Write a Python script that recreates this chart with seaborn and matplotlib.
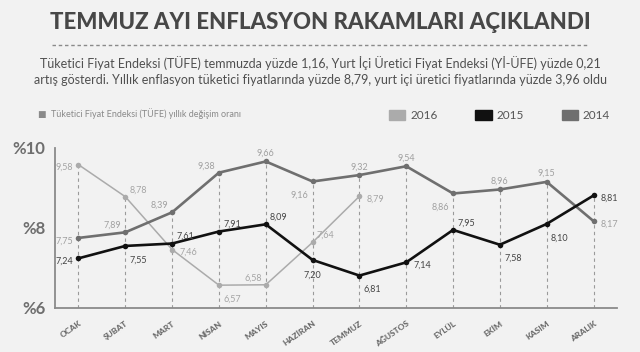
import pandas as pd
import seaborn as sns
import matplotlib.pyplot as plt
from matplotlib.lines import Line2D
from matplotlib.patches import Patch

# data
months = ['OCAK', 'ŞUBAT', 'MART', 'NİSAN', 'MAYIS', 'HAZİRAN',
          'TEMMUZ', 'AĞUSTOS', 'EYLÜL', 'EKİM', 'KASIM', 'ARALIK']
tufe_2016 = [9.58, 8.78, 7.46, 6.57, 6.58, 7.64, 8.79]
tufe_2015 = [7.24, 7.55, 7.61, 7.91, 8.09, 7.20, 6.81, 7.14, 7.95, 7.58, 8.10, 8.81]
tufe_2014 = [7.75, 7.89, 8.39, 9.38, 9.66, 9.16, 9.32, 9.54, 8.86, 8.96, 9.15, 8.17]
y_ticks = [6, 8, 10]

series = {'2016': tufe_2016, '2015': tufe_2015, '2014': tufe_2014}
colors = {'2016': '#ababab', '2015': '#111111', '2014': '#6f6f6f'}
widths = {'2016': 1.1, '2015': 1.9, '2014': 1.9}
label_colors = {'2016': '#a5a5a5', '2015': '#444444', '2014': '#a0a0a0'}

# where each value label sits relative to its point (points offset, ha)
A, B, L, R, AL, AR, BL, BR = ((0, 6, 'center'), (0, -11, 'center'), (-4, -2, 'right'),
                             (5, -2, 'left'), (-3, 5, 'right'), (3, 5, 'left'),
                             (-3, -10, 'right'), (3, -10, 'left'))
label_pos = {
    '2016': [L, AR, R, BR, AL, AR, R],
    '2015': [L, BR, AR, AR, AR, B, BR, R, AR, BR, BR, R],
    '2014': [L, AL, AL, AL, A, BL, A, A, BL, A, A, R],
}

rows = []
for year, vals in series.items():
    for i, v in enumerate(vals):
        rows.append({'ay': i, 'deger': v, 'yil': year})
df = pd.DataFrame(rows)

bg = '#f2f2f2'
sns.set_style('white')
plt.rcParams['font.family'] = ['Lato', 'DejaVu Sans']

fig = plt.figure(figsize=(6.4, 3.52), dpi=100, facecolor=bg)
ax = fig.add_axes([0.086, 0.125, 0.878, 0.455], facecolor=bg)

# dashed guides from the top value of each month to the axis
for i in range(len(months)):
    top = max(vals[i] for vals in series.values() if i < len(vals))
    ax.plot([i, i], [6, top], color='#9a9a9a', lw=0.8, ls=(0, (3, 3)), zorder=1)

sns.lineplot(data=df, x='ay', y='deger', hue='yil', palette=colors,
             hue_order=['2016', '2014', '2015'], marker='o', markersize=4,
             markeredgewidth=0, legend=False, ax=ax, zorder=3)
for year, lw in widths.items():
    for line in ax.lines:
        if line.get_color() == colors[year]:
            line.set_linewidth(lw)

for year, vals in series.items():
    for i, v in enumerate(vals):
        dx, dy, ha = label_pos[year][i]
        ax.annotate(f'{v:.2f}'.replace('.', ','), (i, v), xytext=(dx, dy),
                    textcoords='offset points', ha=ha, va='center',
                    fontsize=6.5, color=label_colors[year], zorder=4)

ax.set_xlim(-0.5, 11.5)
ax.set_ylim(6, 10)
ax.set_xticks(range(len(months)))
ax.set_xticklabels(months, rotation=35, ha='right', rotation_mode='anchor',
                   fontsize=6, fontweight='black', color='#6a6a6a')
ax.set_yticks(y_ticks)
ax.set_yticklabels([f'%{t}' for t in y_ticks], fontsize=12, fontweight='bold',
                   color='#6e6e6e')
ax.tick_params(axis='x', direction='inout', length=5, width=1, color='#555555', pad=6)
ax.tick_params(axis='y', direction='out', length=4, width=1, color='#999999', pad=3)
ax.set_xlabel('')
ax.set_ylabel('')
sns.despine(ax=ax)
for s in ['left', 'bottom']:
    ax.spines[s].set_color('#8a8a8a')
    ax.spines[s].set_linewidth(1.3)

# header
fig.text(0.5, 0.935, 'TEMMUZ AYI ENFLASYON RAKAMLARI AÇIKLANDI', ha='center',
         va='center', fontsize=16, fontweight='black', color='#474747')
fig.add_artist(Line2D([0.082, 0.92], [0.872, 0.872], color='#8a8a8a', lw=1,
                      ls=(0, (2.5, 2))))
fig.text(0.5, 0.822, 'Tüketici Fiyat Endeksi (TÜFE) temmuzda yüzde 1,16, Yurt İçi Üretici '
         'Fiyat Endeksi (Yİ-ÜFE) yüzde 0,21', ha='center', va='center',
         fontsize=9, color='#505050')
fig.text(0.5, 0.773, 'artış gösterdi. Yıllık enflasyon tüketici fiyatlarında yüzde 8,79, '
         'yurt içi üretici fiyatlarında yüzde 3,96 oldu', ha='center', va='center',
         fontsize=9, color='#505050')
fig.text(0.06, 0.678, '■  Tüketici Fiyat Endeksi (TÜFE) yıllık değişim oranı',
         ha='left', va='center', fontsize=6.5, color='#8a8a8a')

handles = [Patch(color=colors[y], label=y) for y in ['2016', '2015', '2014']]
fig.legend(handles=handles, loc='center right', bbox_to_anchor=(0.97, 0.672),
           ncol=3, frameon=False, fontsize=8.5, handlelength=1.4, handleheight=0.9,
           columnspacing=3.2, handletextpad=0.4, labelcolor='#555555')

fig.savefig('out.png', dpi=100, facecolor=bg)
